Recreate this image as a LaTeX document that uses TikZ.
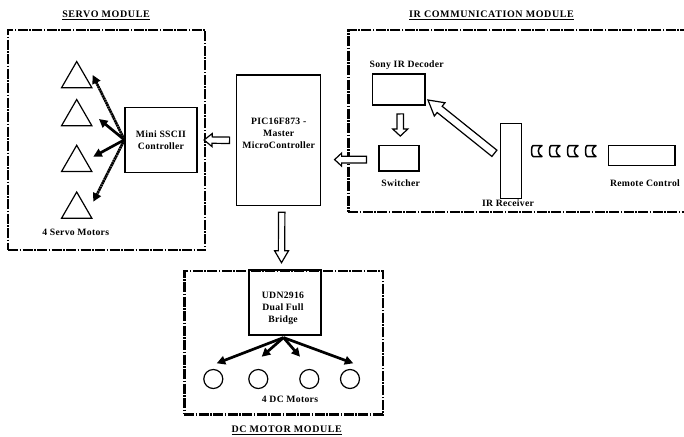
\documentclass[tikz,border=0pt]{standalone}
\usepackage{fontspec}
\setmainfont{Liberation Serif}[LetterSpace=3]
\newfontfamily\ttlfont{Liberation Serif}[LetterSpace=6]
\usetikzlibrary{arrows.meta,calc,shapes.geometric}
\newcommand{\hollowarrow}[5]{%
  \coordinate (hb) at ($(#2)!#5!(#1)$);
  \filldraw[blk, fill=white]
    ($(#1)!#3!90:(#2)$) -- ($(hb)!#3!90:(#2)$) -- ($(hb)!#4!90:(#2)$) -- (#2)
    -- ($(hb)!#4!-90:(#2)$) -- ($(hb)!#3!-90:(#2)$) -- ($(#1)!#3!-90:(#2)$) -- cycle;}
\begin{document}
\begin{tikzpicture}[x=1pt,y=-1pt,
  lbl/.style={font=\bfseries\fontsize{9.7}{12}\selectfont, align=center, inner sep=0},
  ttl/.style={font=\ttlfont\bfseries\fontsize{10}{12}\selectfont, inner sep=0},
  module/.style={draw, line width=2.2pt, dash pattern=on 10pt off 1.5pt on 1.5pt off 1.5pt, anchor=north west, inner sep=0},
  blk/.style={draw, line width=1.2pt},
  box/.style={blk, inner sep=0, align=center, font=\bfseries\fontsize{9.7}{12}\selectfont},
  servo/.style={blk, regular polygon, regular polygon sides=3, minimum size=35pt, inner sep=0},
  dcmotor/.style={blk, circle, minimum size=19pt, inner sep=0},
  motorarrow/.style={line width=2.7pt, -{Triangle[length=8.5pt,width=8.5pt]}},
  dotarrow/.style={motorarrow, dash pattern=on 2pt off 0.5pt},
  wave/.style={line width=1.5pt, line join=round}
]
\useasboundingbox (0,0) rectangle (684,436);

% ---------- modules ----------
\node[module, minimum width=197pt, minimum height=220pt] (servomod) at (7,29) {};
\node[module, minimum width=341pt, minimum height=182pt] (irmod) at (347.3,29) {};
\node[module, minimum width=198.4pt, minimum height=143.3pt] (dcmod) at (183.3,270) {};

\node[ttl] (servottl) at (106,15) {\underline{SERVO MODULE}};
\node[ttl] (irttl) at (491.5,15) {\underline{IR COMMUNICATION MODULE}};
\node[ttl] (dcttl) at (286.7,430) {\underline{DC MOTOR MODULE}};

% ---------- main controller ----------
\node[blk, minimum width=84pt, minimum height=130.7pt] (pic) at (278.7,140.3) {};
\node[lbl] (pictxt) at (278.7,133) {PIC16F873 -\\Master\\MicroController};

% ---------- servo module ----------
\node[box, minimum width=72pt, minimum height=65pt] (ssc) at (161,139.8) {Mini SSCII\\Controller};
\node[servo] (s1) at (76.7,79) {};
\node[servo] (s2) at (76.7,117) {};
\node[servo] (s3) at (76.7,162.8) {};
\node[servo] (s4) at (76.7,209.5) {};
\node[lbl] (servolbl) at (75.7,232) {4 Servo Motors};
\coordinate (t1) at (92.7,75);
\coordinate (t2) at (99,119);
\coordinate (t3) at (93.3,156.7);
\coordinate (t4) at (93.3,201.7);
\draw[dotarrow] (ssc.west) -- (t1);
\draw[motorarrow] (ssc.west) -- (t2);
\draw[motorarrow] (ssc.west) -- (t3);
\draw[dotarrow] (ssc.west) -- (t4);

% ---------- IR module ----------
\node[blk, minimum width=52.7pt, minimum height=31pt] (dec) at (398.7,89.5) {};
\node[lbl] (declbl) at (406.7,65) {Sony IR Decoder};
\node[blk, minimum width=40pt, minimum height=25.3pt] (sw) at (399,158.3) {};
\node[lbl] (swlbl) at (400.7,183) {Switcher};
\node[blk, minimum width=21pt, minimum height=75pt] (rx) at (511.2,160.8) {};
\node[lbl] (rxlbl) at (508,203.3) {IR Receiver};
\node[blk, minimum width=66.7pt, minimum height=20pt] (rc) at (641.7,155.7) {};
\node[lbl] (rclbl) at (645,183) {Remote Control};

\foreach \x in {531,549,567,585}{
  \draw[wave] (\x+11,145.5) -- (\x+2,145.5) .. controls (\x,145.5) and (\x,156.5) .. (\x+2,156.5)
    -- (\x+11,156.5) .. controls (\x+6,154) and (\x+6,148) .. cycle;
}

% ---------- DC module ----------
\node[blk, minimum width=72pt, minimum height=65pt] (udn) at (285,302.5) {};
\node[lbl] (udntxt) at (283,308) {UDN2916\\Dual Full\\Bridge};
\node[dcmotor] (m1) at (213.3,379) {};
\node[dcmotor] (m2) at (258.3,379) {};
\node[dcmotor] (m3) at (309.3,379) {};
\node[dcmotor] (m4) at (350,379) {};
\node[lbl] (dclbl) at (290,399.3) {4 DC Motors};
\coordinate (src) at ($(udn.south)+(-1.5,2)$);
\coordinate (d1) at (216.7,363.3);
\coordinate (d2) at (261.7,356.7);
\coordinate (d3) at (300,356.7);
\coordinate (d4) at (353.3,363.3);
\draw[motorarrow] (src) -- (d1);
\draw[motorarrow] (src) -- (d2);
\draw[motorarrow] (src) -- (d3);
\draw[motorarrow] (src) -- (d4);

% ---------- hollow block arrows ----------
\coordinate (a1s) at ($(pic.west)+(-6.5,0)$);
\coordinate (a1e) at ($(ssc.east)+(6.5,0.2)$);
\hollowarrow{a1s}{a1e}{3.2pt}{6.5pt}{8pt}

\coordinate (a2s) at ($(sw.west)+(-12,1.3)$);
\coordinate (a2e) at ($(pic.east)+(13.3,19.3)$);
\hollowarrow{a2s}{a2e}{3.3pt}{6.5pt}{7pt}

\coordinate (a3s) at ($(pic.south)+(3,6)$);
\coordinate (a3e) at ($(udn.north)+(-3.5,-6.7)$);
\hollowarrow{a3s}{a3e}{3.2pt}{7pt}{12pt}

\coordinate (a4s) at ($(dec.south)+(1.5,8.3)$);
\coordinate (a4e) at ($(sw.north)+(1.3,-9)$);
\hollowarrow{a4s}{a4e}{3.2pt}{7.5pt}{7pt}

\coordinate (a5s) at ($(rx.west)+(-5.7,-7.5)$);
\coordinate (a5e) at ($(dec.east)+(2.3,10.5)$);
\hollowarrow{a5s}{a5e}{4pt}{8.5pt}{15pt}
\end{tikzpicture}
\end{document}
